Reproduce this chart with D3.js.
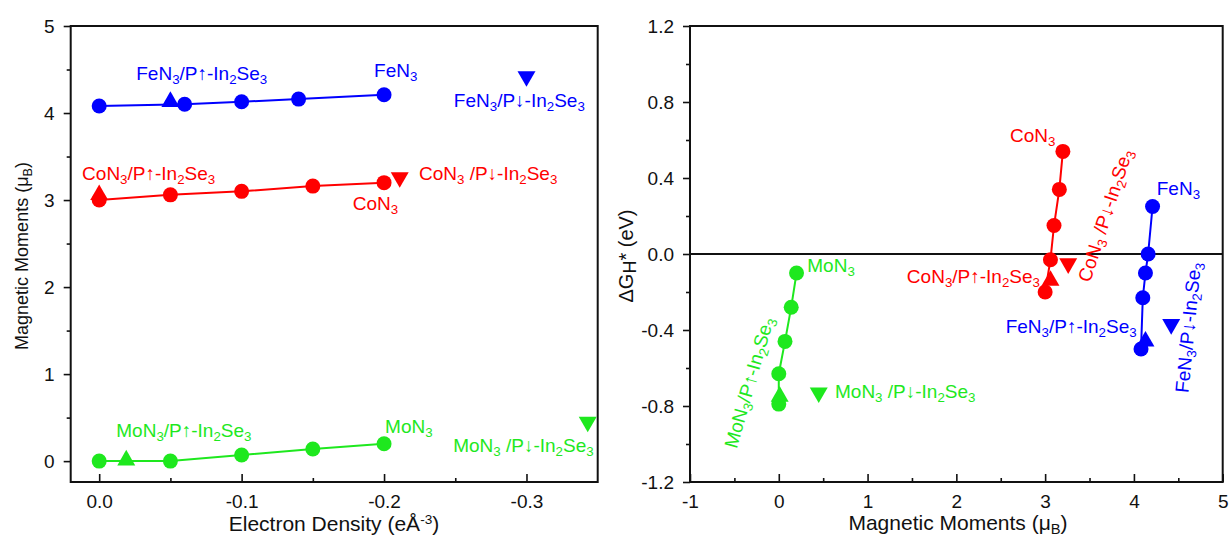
<!DOCTYPE html>
<html lang="en">
<head>
<meta charset="UTF-8">
<title>Magnetic moments and HER free energy</title>
<style>
  body { margin:0; background:#fff; }
  svg { font-family: "Liberation Sans", Arial, sans-serif; }
  .tick text { font-size:19px; fill:#111; }
  .tick line { stroke:#111; stroke-width:1.6; }
</style>
</head>
<body>
<script src="https://d3js.org/d3.v7.min.js"></script>
<script>
// ---- data -------------------------------------------------------------
// left panel: electron density (e/A^3) vs magnetic moment (uB)
var feDensity = [0, -0.06, -0.1, -0.14, -0.2];
var coDensity = [0, -0.05, -0.1, -0.15, -0.2];
var moDensity = [0, -0.05, -0.1, -0.15, -0.2];

// magnetic moments (shared by both panels)
var feMoment = [4.08, 4.10, 4.13, 4.16, 4.21];
var coMoment = [3.00, 3.06, 3.10, 3.16, 3.20];
var moMoment = [0.00, 0.00, 0.07, 0.14, 0.20];

// right panel: delta G_H* (eV)
var feDG = [-0.50, -0.23, -0.10, 0.00, 0.25];
var coDG = [-0.20, -0.03, 0.15, 0.34, 0.54];
var moDG = [-0.79, -0.63, -0.46, -0.28, -0.10];

// P-up / P-down In2Se3 heterostructures: [density, moment, dG]
var feUp = [-0.05, 4.13, -0.46],  feDown = [-0.30, 4.42, -0.37];
var coUp = [0.00, 3.06, -0.14],   coDown = [-0.211, 3.26, -0.05];
var moUp = [-0.019, 0.01, -0.75], moDown = [-0.343, 0.45, -0.73];

var leftXTicks = [0, -0.1, -0.2, -0.3];
var leftYTicks = [0, 1, 2, 3, 4, 5];
var rightXTicks = [-1, 0, 1, 2, 3, 4, 5];
var rightYTicks = [-1.2, -0.8, -0.4, 0, 0.4, 0.8, 1.2];

var blue = '#0000ff', red = '#ff0000', green = '#1ee81e';

// ---- layout -----------------------------------------------------------
var width = 1229, height = 538;
var svg = d3.select('body').append('svg')
    .attr('width', width).attr('height', height);
svg.append('rect').attr('width', width).attr('height', height).attr('fill', '#fff');

var xL = d3.scaleLinear().domain([0.02, -0.35]).range([70.7, 597.7]);
var yL = d3.scaleLinear().domain([-0.24, 5]).range([482, 26]);
var xR = d3.scaleLinear().domain([-1, 5]).range([690, 1222.7]);
var yR = d3.scaleLinear().domain([-1.2, 1.2]).range([482, 26]);

// parts: [text, mode] with mode sub / sup / back-sub / back-sup
function rich(sel, parts) {
    parts.forEach(function(p) {
        var t = sel.append('tspan').text(p[0]);
        if (p[1] === 'sub') t.attr('dy', 4).attr('font-size', '0.7em');
        if (p[1] === 'sup') t.attr('dy', -7).attr('font-size', '0.65em');
        if (p[1] === 'back-sub') t.attr('dy', -4);
        if (p[1] === 'back-sup') t.attr('dy', 7);
    });
}
function formula(metal, pol, space) {
    return [[metal + 'N'], ['3', 'sub'], [(space ? ' ' : '') + '/P' + pol + '-In', 'back-sub'],
            ['2', 'sub'], ['Se', 'back-sub'], ['3', 'sub']];
}
function bare(metal) { return [[metal + 'N'], ['3', 'sub']]; }

function drawAxes(g, x, y, xTicks, xMinor, yTicks, yMinor, xFmt, yFmt) {
    var x0 = x.range()[0], x1 = x.range()[1], y0 = y.range()[0], y1 = y.range()[1];
    g.append('g').attr('transform', 'translate(0,' + y0 + ')')
        .call(d3.axisBottom(x).tickValues(xMinor).tickSize(-4).tickFormat(''))
        .call(function(a) { a.select('.domain').remove(); });
    g.append('g').attr('transform', 'translate(0,' + y0 + ')')
        .call(d3.axisBottom(x).tickValues(xTicks).tickSize(-8).tickPadding(13).tickFormat(xFmt))
        .call(function(a) { a.select('.domain').remove(); });
    g.append('g').attr('transform', 'translate(' + x0 + ',0)')
        .call(d3.axisLeft(y).tickValues(yMinor).tickSize(4).tickFormat(''))
        .call(function(a) { a.select('.domain').remove(); });
    g.append('g').attr('transform', 'translate(' + x0 + ',0)')
        .call(d3.axisLeft(y).tickValues(yTicks).tickSize(7).tickPadding(9).tickFormat(yFmt))
        .call(function(a) { a.select('.domain').remove(); });
    g.append('rect')
        .attr('x', x0).attr('y', y1).attr('width', x1 - x0).attr('height', y0 - y1)
        .attr('fill', 'none').attr('stroke', '#111').attr('stroke-width', 2);
}

function series(g, xs, ys, color) {
    var pts = xs.map(function(d, i) { return [d, ys[i]]; });
    g.append('path')
        .attr('d', d3.line().x(function(d) { return g.x(d[0]); }).y(function(d) { return g.y(d[1]); })(pts))
        .attr('fill', 'none').attr('stroke', color).attr('stroke-width', 2);
    g.selectAll(null).data(pts).enter().append('circle')
        .attr('cx', function(d) { return g.x(d[0]); })
        .attr('cy', function(d) { return g.y(d[1]); })
        .attr('r', 7.5).attr('fill', color);
}
function tri(g, px, py, color, down) {
    g.append('path')
        .attr('d', d3.symbol().type(d3.symbolTriangle).size(140)())
        .attr('transform', 'translate(' + g.x(px) + ',' + g.y(py) + ')' + (down ? ' rotate(180)' : ''))
        .attr('fill', color);
}
function label(g, px, py, parts, color, anchor, angle) {
    var t = g.append('text')
        .attr('transform', 'translate(' + g.x(px) + ',' + g.y(py) + ')' + (angle ? ' rotate(' + angle + ')' : ''))
        .attr('font-size', 19).attr('fill', color).attr('text-anchor', anchor || 'start');
    rich(t, parts);
}

// ---- left panel --------------------------------------------------------
var gl = svg.append('g');
gl.x = xL; gl.y = yL;
drawAxes(gl, xL, yL, leftXTicks, [-0.05, -0.15, -0.25], leftYTicks, [0.5, 1.5, 2.5, 3.5, 4.5],
    function(d) { return d.toFixed(1); }, function(d) { return d; });

series(gl, feDensity, feMoment, blue);
series(gl, coDensity, coMoment, red);
series(gl, moDensity, moMoment, green);
tri(gl, feUp[0], feUp[1], blue);   tri(gl, feDown[0], feDown[1], blue, true);
tri(gl, coUp[0], coUp[1], red);    tri(gl, coDown[0], coDown[1], red, true);
tri(gl, moUp[0], moUp[1], green);  tri(gl, moDown[0], moDown[1], green, true);

label(gl, -0.026, 4.38, formula('Fe', '↑'), blue);
label(gl, -0.193, 4.41, bare('Fe'), blue);
label(gl, -0.249, 4.07, formula('Fe', '↓'), blue);
label(gl, 0.012, 3.23, formula('Co', '↑'), red);
label(gl, -0.2245, 3.23, formula('Co', '↓', true), red);
label(gl, -0.178, 2.885, bare('Co'), red);
label(gl, -0.012, 0.28, formula('Mo', '↑'), green);
label(gl, -0.2007, 0.323, bare('Mo'), green);
label(gl, -0.2485, 0.108, formula('Mo', '↓', true), green);

var tl = svg.append('text').attr('x', 334).attr('y', 531)
    .attr('text-anchor', 'middle').attr('font-size', 21).attr('fill', '#111');
rich(tl, [['Electron Density (eÅ'], ['-3', 'sup'], [')', 'back-sup']]);
var tly = svg.append('text').attr('transform', 'translate(28,256) rotate(-90)')
    .attr('text-anchor', 'middle').attr('font-size', 18).attr('fill', '#111');
rich(tly, [['Magnetic Moments (μ'], ['B', 'sub'], [')', 'back-sub']]);

// ---- right panel -------------------------------------------------------
var gr = svg.append('g');
gr.x = xR; gr.y = yR;
drawAxes(gr, xR, yR, rightXTicks, [-0.5, 0.5, 1.5, 2.5, 3.5, 4.5], rightYTicks,
    [-1.0, -0.6, -0.2, 0.2, 0.6, 1.0],
    function(d) { return d; }, function(d) { return d.toFixed(1); });

gr.append('line')
    .attr('x1', xR(-1)).attr('x2', xR(5)).attr('y1', yR(0)).attr('y2', yR(0))
    .attr('stroke', '#111').attr('stroke-width', 2);

series(gr, feMoment, feDG, blue);
series(gr, coMoment, coDG, red);
series(gr, moMoment, moDG, green);
tri(gr, feUp[1], feUp[2], blue);   tri(gr, feDown[1], feDown[2], blue, true);
tri(gr, coUp[1], coUp[2], red);    tri(gr, coDown[1], coDown[2], red, true);
tri(gr, moUp[1], moUp[2], green);  tri(gr, moDown[1], moDown[2], green, true);

label(gr, 2.604, 0.591, bare('Co'), red);
label(gr, 4.257, 0.311, bare('Fe'), blue);
label(gr, 0.321, -0.093, bare('Mo'), green);
label(gr, 2.942, -0.154, formula('Co', '↑'), red, 'end');
label(gr, 4.031, -0.417, formula('Fe', '↑'), blue, 'end');
label(gr, 0.633, -0.758, formula('Mo', '↓', true), green);
label(gr, 3.505, -0.154, formula('Co', '↓', true), red, 'start', -72);
label(gr, 4.613, -0.733, formula('Fe', '↓'), blue, 'start', -84.5);
label(gr, -0.474, -1.028, formula('Mo', '↑'), green, 'start', -74);

var tr = svg.append('text').attr('x', 958).attr('y', 530)
    .attr('text-anchor', 'middle').attr('font-size', 21).attr('fill', '#111');
rich(tr, [['Magnetic Moments (μ'], ['B', 'sub'], [')', 'back-sub']]);
var tRy = svg.append('text').attr('transform', 'translate(633,256) rotate(-90)')
    .attr('text-anchor', 'middle').attr('font-size', 20).attr('fill', '#111');
tRy.append('tspan').text('ΔG');
tRy.append('tspan').text('H').attr('dy', 3).attr('font-size', '0.9em');
tRy.append('tspan').text('*').attr('dy', -3);
tRy.append('tspan').text(' (eV)');
</script>
</body>
</html>
